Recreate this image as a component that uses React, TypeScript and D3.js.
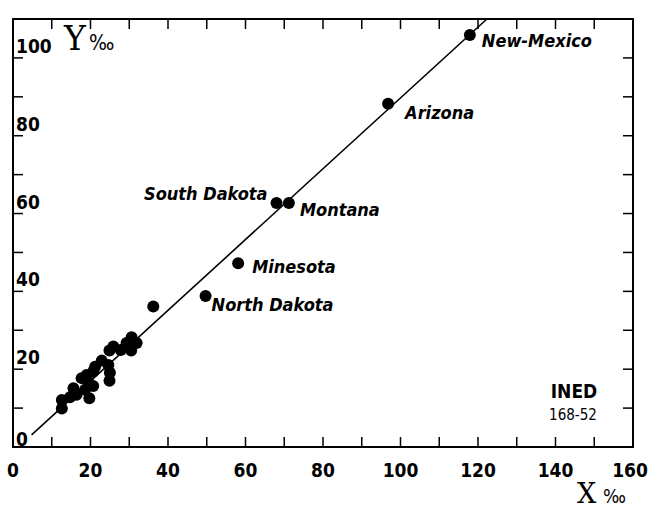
import React from "react";
import * as d3 from "d3";

// X and Y rates (per thousand)
const namedStates = ["New-Mexico", "Arizona", "South Dakota", "Montana", "Minesota", "North Dakota"];
const namedX = [117.9, 96.8, 68.0, 71.2, 58.1, 49.7];
const namedY = [105.9, 88.2, 62.7, 62.7, 47.2, 38.8];

// unlabelled states
const otherX = [36.2, 30.6, 31.9, 29.3, 30.5, 27.8, 25.9, 24.9, 22.9, 24.6, 21.2, 20.7, 25.0, 19.0, 17.7, 24.9, 19.4, 20.7, 18.6, 15.6, 16.4, 14.7, 19.7, 12.6, 12.6];
const otherY = [36.1, 28.2, 26.7, 26.7, 24.8, 24.9, 25.8, 24.8, 22.2, 21.1, 20.6, 19.4, 19.1, 18.5, 17.7, 17.0, 16.8, 15.7, 14.7, 15.1, 13.4, 12.8, 12.5, 12.1, 9.9];

// fitted line, two ends
const lineX = [4.8, 122.3];
const lineY = [3.1, 110];

const xTickLabels = [0, 20, 40, 60, 80, 100, 120, 140, 160];
const yTickLabels = [0, 20, 40, 60, 80, 100];

// label placement relative to the dot
const labelPos: Record<string, { dx: number; dy: number; anchor: string }> = {
  "New-Mexico": { dx: 12, dy: 12, anchor: "start" },
  Arizona: { dx: 17, dy: 15, anchor: "start" },
  "South Dakota": { dx: -9, dy: -3, anchor: "end" },
  Montana: { dx: 11, dy: 13, anchor: "start" },
  Minesota: { dx: 14, dy: 10, anchor: "start" },
  "North Dakota": { dx: 6, dy: 15, anchor: "start" },
};

const W = 655;
const H = 508;
const left = 13;
const right = 633;
const top = 19;
const bottom = 447;

export default function App() {
  const x = d3.scaleLinear().domain([0, 160]).range([left, right]);
  const y = d3.scaleLinear().domain([0, 110]).range([bottom, top]);
  const xMinor = d3.range(0, 161, 10);
  const yMinor = d3.range(0, 111, 10);
  const tickLen = 10;
  const numFont = "'DejaVu Sans Condensed', 'DejaVu Sans', sans-serif";
  const lineGen = d3.line<number>().x((d, i) => x(lineX[i])).y((d, i) => y(lineY[i]));

  return (
    <svg
      width={W}
      height={H}
      style={{ position: "absolute", left: 0, top: 0, background: "#fff" }}
    >
      <rect x={left} y={top} width={right - left} height={bottom - top} fill="none" stroke="#000" strokeWidth={2} />

      {xMinor.map((t) => (
        <g key={"xt" + t}>
          <line x1={x(t)} x2={x(t)} y1={bottom} y2={bottom - tickLen} stroke="#000" strokeWidth={1.5} />
          <line x1={x(t)} x2={x(t)} y1={top} y2={top + tickLen} stroke="#000" strokeWidth={1.5} />
        </g>
      ))}
      {yMinor.map((t) => (
        <g key={"yt" + t}>
          <line x1={left} x2={left + tickLen} y1={y(t)} y2={y(t)} stroke="#000" strokeWidth={1.5} />
          <line x1={right} x2={right - tickLen} y1={y(t)} y2={y(t)} stroke="#000" strokeWidth={1.5} />
        </g>
      ))}

      {xTickLabels.map((t) => (
        <text key={"xl" + t} x={x(t) + (t === 160 ? -3 : 0)} y={477} textAnchor="middle" fontFamily={numFont} fontWeight="bold" fontSize={19}>
          {t}
        </text>
      ))}
      {yTickLabels.map((t) => (
        <text key={"yl" + t} x={left + 3} y={y(t) - (t === 0 ? 1 : 5)} textAnchor="start" fontFamily={numFont} fontWeight="bold" fontSize={19}>
          {t}
        </text>
      ))}

      <text x={64} y={50} fontFamily="'DejaVu Serif', serif" fontSize={33}>Y</text>
      <text x={89} y={50} fontFamily={numFont} fontSize={21}>‰</text>
      <text x={577} y={503} fontFamily="'DejaVu Serif', serif" fontSize={27}>X</text>
      <text x={603} y={503} fontFamily={numFont} fontSize={19}>‰</text>

      <path d={lineGen([0, 1]) || ""} fill="none" stroke="#000" strokeWidth={1.6} />

      {otherX.map((v, i) => (
        <circle key={"o" + i} cx={x(v)} cy={y(otherY[i])} r={6} fill="#000" />
      ))}
      {namedStates.map((s, i) => {
        const p = labelPos[s];
        return (
          <g key={s}>
            <circle cx={x(namedX[i])} cy={y(namedY[i])} r={6} fill="#000" />
            <text
              x={x(namedX[i]) + p.dx}
              y={y(namedY[i]) + p.dy}
              textAnchor={p.anchor}
              fontFamily={numFont}
              fontStyle="italic"
              fontWeight="bold"
              fontSize={18}
            >
              {s}
            </text>
          </g>
        );
      })}

      <text x={574} y={398} textAnchor="middle" fontFamily="'DejaVu Sans Condensed', sans-serif" fontSize={19} fontWeight="bold">
        INED
      </text>
      <text x={573} y={420} textAnchor="middle" fontFamily={numFont} fontSize={15}>
        168-52
      </text>
    </svg>
  );
}
